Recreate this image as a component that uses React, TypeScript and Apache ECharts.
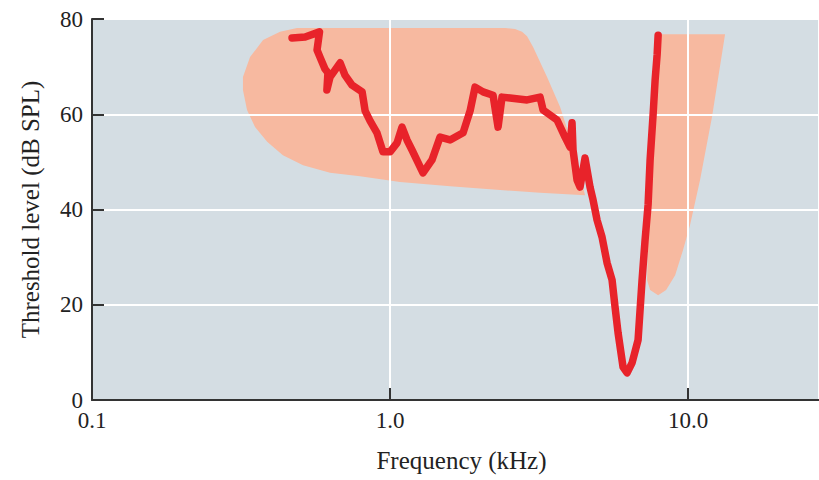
import React, { useEffect, useRef } from "react";
import * as echarts from "echarts";

// Tick labels
const xTickValues = [0.1, 1.0, 10.0];
const yTickValues = [0, 20, 40, 60, 80];

// Threshold curve (frequency kHz, dB SPL)
const curveFreq = [
  0.469, 0.519, 0.58, 0.569, 0.582, 0.605, 0.619, 0.614, 0.629, 0.68, 0.706, 0.746, 0.806, 0.825,
  0.857, 0.904, 0.947, 1.0, 1.056, 1.097, 1.14, 1.185, 1.29, 1.383, 1.472, 1.59, 1.758, 1.856,
  1.929, 2.052, 2.216, 2.304, 2.376, 2.527, 2.883, 3.187, 3.262, 3.634, 3.866, 4.018, 4.08,
  4.112, 4.241, 4.34, 4.511, 4.689, 4.8, 4.95, 5.145, 5.348, 5.559, 5.689, 5.823, 6.052, 6.243,
  6.488, 6.796, 7.009, 7.174, 7.343, 7.458, 7.634, 7.753, 7.874, 7.935,
];
const curveLevel = [
  76.0, 76.2, 77.3, 73.5, 72.0, 69.5, 68.7, 65.1, 67.8, 70.8, 68.2, 66.1, 64.7, 60.7,
  58.6, 56.1, 52.1, 52.1, 54.0, 57.3, 54.6, 52.5, 47.7, 50.4, 55.2, 54.6, 56.1, 60.7,
  65.7, 64.7, 64.0, 57.3, 63.6, 63.4, 63.0, 63.6, 60.9, 58.8, 55.2, 53.1, 58.2,
  52.5, 46.2, 44.7, 50.8, 44.7, 42.0, 37.8, 34.2, 28.8, 25.2, 19.5, 14.1, 6.9, 5.7,
  7.8, 12.6, 25.2, 33.6, 41.0, 50.4, 60.0, 67.2, 72.5, 76.6,
];

// Shaded region 1 (broad low-frequency region)
const area1Freq = [
  0.4875, 1.08, 2.432, 2.627, 2.773, 2.883, 3.02, 3.364, 3.721, 4.112, 4.511,
  3.187, 2.34, 1.59, 1.08, 0.793, 0.629, 0.5107, 0.437, 0.387, 0.3524, 0.3313, 0.321, 0.321,
  0.3391, 0.3749, 0.4275,
];
const area1Level = [
  78.1, 78.1, 78.1, 77.9, 77.3, 76.4, 74.1, 67.8, 61.5, 53.1, 43.0,
  43.5, 44.1, 44.9, 45.8, 47.0, 47.7, 49.3, 51.4, 54.2, 57.3, 60.9, 65.1, 67.8,
  72.0, 75.6, 77.3,
];

// Shaded region 2 (narrow high-frequency region)
const area2Freq = [7.935, 13.31, 12.03, 10.97, 10.15, 9.62, 9.05, 8.44, 7.935, 7.458, 7.286, 7.343, 7.57, 7.753, 7.874];
const area2Level = [76.8, 76.8, 59.4, 46.2, 36.7, 31.5, 26.2, 23.1, 22.0, 23.1, 25.2, 33.6, 50.4, 67.2, 76.8];

const FONT = "'Liberation Serif', 'Times New Roman', serif";
const SALMON = "#f7b9a0";
const RED = "#e8232a";
const AXIS = "#333333";

function polygonSeries(freq: number[], level: number[], smooth: number) {
  return {
    type: "custom",
    z: 1,
    silent: true,
    data: [[1, 40]],
    renderItem: (_params: any, api: any) => {
      const pts = freq.map((f, i) => api.coord([f, level[i]]));
      return {
        type: "polygon",
        shape: { points: pts, smooth },
        style: { fill: SALMON },
      };
    },
  };
}

export default function App() {
  const ref = useRef<HTMLDivElement>(null);
  useEffect(() => {
    if (!ref.current) return;
    const chart = echarts.init(ref.current, null, { renderer: "svg" });
    const curve = curveFreq.map((f, i) => [f, curveLevel[i]]);
    chart.setOption({
      animation: false,
      grid: {
        left: 92,
        right: 0,
        top: 19,
        bottom: 80,
        show: true,
        backgroundColor: "#d4dde3",
        borderWidth: 0,
      },
      xAxis: {
        type: "log",
        logBase: 10,
        min: 0.1,
        max: 27.5,
        z: 2,
        name: "Frequency (kHz)",
        nameLocation: "middle",
        nameGap: 48,
        nameTextStyle: { fontFamily: FONT, fontSize: 25, color: "#222", padding: [0, 0, 0, 12] },
        axisLine: { show: true, onZero: false, lineStyle: { color: AXIS, width: 2 } },
        axisTick: { show: true, inside: true, length: 12, lineStyle: { color: AXIS, width: 2 } },
        minorTick: { show: false },
        axisLabel: {
          fontFamily: FONT,
          fontSize: 23,
          color: "#222",
          margin: 9,
          showMaxLabel: false,
          formatter: (v: number) => {
            const hit = xTickValues.find((t) => Math.abs(t - v) < 1e-6 * Math.max(1, t));
            return hit !== undefined ? hit.toFixed(1) : "";
          },
        },
        splitLine: { show: true, lineStyle: { color: "#ffffff", width: 2 } },
      },
      yAxis: {
        type: "value",
        min: yTickValues[0],
        max: yTickValues[yTickValues.length - 1],
        interval: 20,
        z: 2,
        name: "Threshold level (dB SPL)",
        nameLocation: "middle",
        nameGap: 49,
        nameTextStyle: { fontFamily: FONT, fontSize: 25, color: "#222" },
        axisLine: { show: true, lineStyle: { color: AXIS, width: 2 } },
        axisTick: { show: true, inside: true, length: 12, lineStyle: { color: AXIS, width: 2 } },
        axisLabel: { fontFamily: FONT, fontSize: 23, color: "#222", margin: 9 },
        splitLine: { show: true, lineStyle: { color: "#ffffff", width: 2 } },
      },
      series: [
        polygonSeries(area1Freq, area1Level, 0),
        polygonSeries(area2Freq, area2Level, 0),
        {
          type: "line",
          z: 3,
          data: curve,
          showSymbol: false,
          symbol: "none",
          silent: true,
          lineStyle: { color: RED, width: 7.5, join: "round", cap: "round" },
        },
      ],
    });
    return () => chart.dispose();
  }, []);
  return (
    <div
      ref={ref}
      style={{ position: "fixed", left: 0, top: 0, width: 819, height: 480, background: "#ffffff" }}
    />
  );
}
